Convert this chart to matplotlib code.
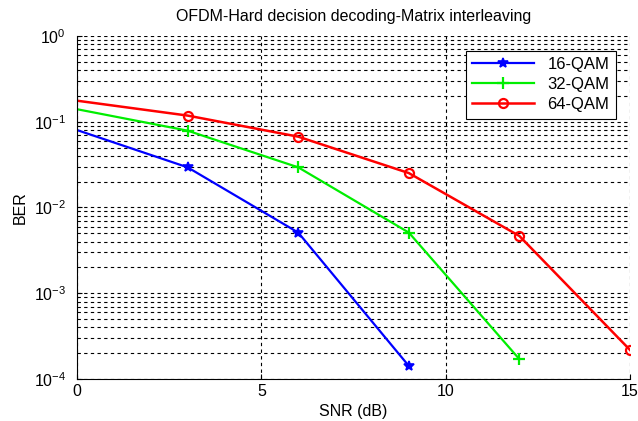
import matplotlib.pyplot as plt
import numpy as np

plt.rcParams['font.family'] = ['Liberation Sans', 'DejaVu Sans']

snr_16 = [0, 3, 6, 9]
ber_16 = [0.080, 0.0294, 0.0051, 1.42e-4]
snr_32 = [0, 3, 6, 9, 12]
ber_32 = [0.140, 0.0787, 0.0294, 0.0051, 1.7e-4]
snr_64 = [0, 3, 6, 9, 12, 15]
ber_64 = [0.176, 0.118, 0.067, 0.0252, 0.00465, 2.18e-4]

fig = plt.figure(figsize=(6.38, 4.21), dpi=100)
ax = fig.add_axes([0.1207, 0.0998, 0.8668, 0.8147])

# markers only from the 2nd point on (as in the original)
ax.semilogy(snr_16, ber_16, color='#0000ff', lw=1.6, marker='*', ms=7, mew=1.2,
            markevery=slice(1, None), label='16-QAM')
ax.semilogy(snr_32, ber_32, color='#00ee00', lw=1.6, marker='+', ms=8, mew=1.6,
            markevery=slice(1, None), label='32-QAM')
ax.semilogy(snr_64, ber_64, color='#ff0000', lw=1.8, marker='o', ms=6.5, mfc='none', mew=1.6,
            markevery=slice(1, None), label='64-QAM')

ax.set_xlim(0, 15)
ax.set_ylim(1e-4, 1)
ax.set_xticks([0, 5, 10, 15])
ax.grid(True, which='major', color='black', ls=(0, (3, 3)), lw=0.8)
ax.grid(True, which='minor', axis='y', color='black', ls=(0, (3, 3)), lw=0.8)
ax.spines['top'].set_visible(False)
ax.spines['right'].set_visible(False)
ax.tick_params(direction='in', labelsize=11.5)
ax.tick_params(axis='y', pad=8)
ax.tick_params(which='minor', direction='in')

ax.set_title('OFDM-Hard decision decoding-Matrix interleaving', fontsize=11.5, pad=11)
ax.set_xlabel('SNR (dB)', fontsize=11.5)
ax.set_ylabel('BER', fontsize=11.5)

leg = ax.legend(loc='upper right', bbox_to_anchor=(0.99, 0.982), fontsize=12,
                fancybox=False, framealpha=1, edgecolor='black', handlelength=3.7,
                borderpad=0.4, labelspacing=0.3)
leg.get_frame().set_linewidth(0.8)

fig.savefig('out.png', dpi=100)
